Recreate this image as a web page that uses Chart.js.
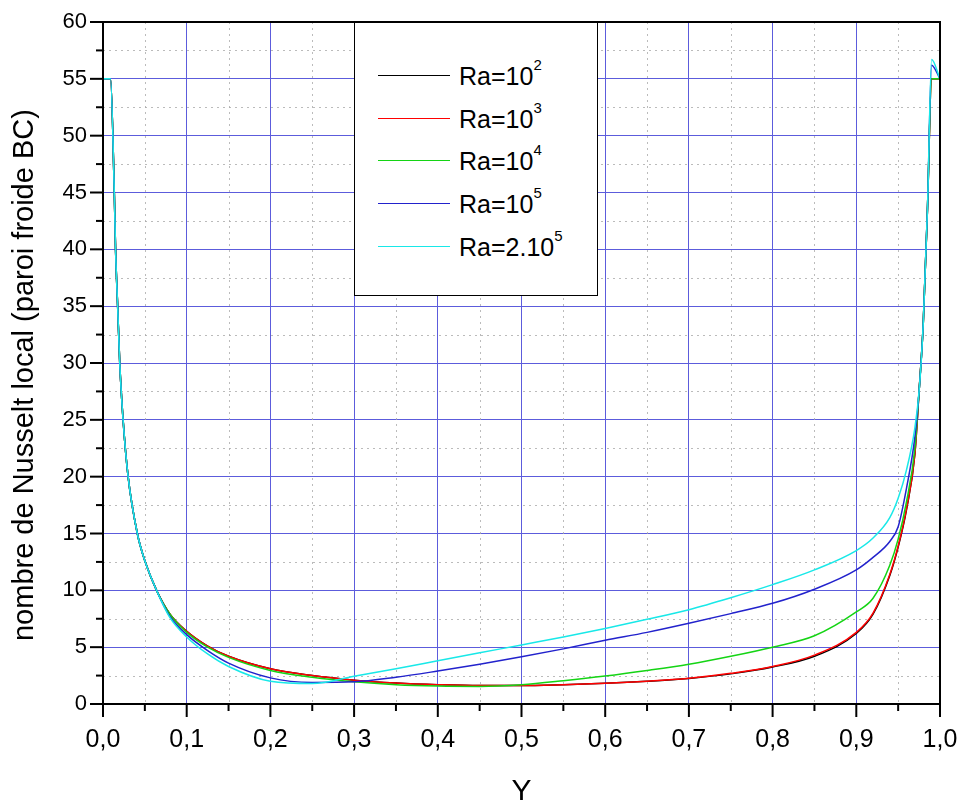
<!DOCTYPE html>
<html>
<head>
<meta charset="utf-8">
<script src="https://cdn.jsdelivr.net/npm/chart.js@4.4.1/dist/chart.umd.min.js"></script>
<style>
  html, body { margin: 0; padding: 0; background: #fff; }
  #wrap { position: relative; width: 962px; height: 807px; }
  #legend {
    position: absolute; left: 354px; top: 22px; width: 242px; height: 272px;
    border: 1.5px solid #000; background: #fff;
    font-family: "Liberation Sans", Arial, sans-serif; font-size: 25px; color: #000;
  }
  .row { position: absolute; left: 0; height: 30px; }
  .row i { position: absolute; left: 23px; top: 14px; width: 72px; height: 0; border-top: 1.5px solid; }
  .row span { position: absolute; left: 104px; top: 0; white-space: nowrap; line-height: 30px; }
  .row sup { font-size: 15px; position: relative; top: -4px; vertical-align: top; line-height: 15px; }
</style>
</head>
<body>
<div id="wrap">
  <canvas id="nu-chart"></canvas>
  <div id="legend"></div>
</div>
<script>
// Y position along the cold wall BC
const yPos = [0, 0.009, 0.0135, 0.015, 0.0175, 0.02, 0.024, 0.03, 0.041, 0.05, 0.064, 0.08,
              0.1, 0.125, 0.15, 0.2, 0.25, 0.3, 0.35, 0.4, 0.45, 0.5, 0.55, 0.6, 0.65, 0.7,
              0.75, 0.8, 0.85, 0.9, 0.92, 0.94, 0.95, 0.96, 0.97, 0.975, 0.98, 0.985, 0.99, 1.0];

// local Nusselt number, one list per Rayleigh number
const nuRa1e2 = [55, 55, 45, 40, 35, 30, 25, 20, 15, 12.6, 10, 7.9,
                 6.4, 5.1, 4.2, 3.1, 2.5, 2.1, 1.85, 1.7, 1.62, 1.62, 1.7, 1.82, 2.0, 2.25,
                 2.65, 3.25, 4.2, 6.2, 7.9, 11.3, 13.8, 17.1, 22, 27.5, 33.5, 43.5, 55, 55];
const nuRa1e3 = [55, 55, 45, 40, 35, 30, 25, 20, 15, 12.6, 10, 7.9,
                 6.4, 5.1, 4.2, 3.1, 2.5, 2.1, 1.85, 1.7, 1.62, 1.62, 1.7, 1.82, 2.0, 2.26,
                 2.7, 3.3, 4.3, 6.3, 8.0, 11.4, 13.9, 17.2, 22, 27.5, 33.5, 43.5, 55, 55];
const nuRa1e4 = [55, 55, 45, 40, 35, 30, 25, 20, 15, 12.6, 10, 7.9,
                 6.3, 5.0, 4.1, 2.95, 2.35, 1.95, 1.7, 1.58, 1.55, 1.7, 2.05, 2.46, 2.95, 3.5,
                 4.2, 5.0, 6.0, 8.1, 9.3, 12.2, 14.5, 17.8, 22.5, 27.5, 33.5, 43.5, 55, 55];
const nuRa1e5 = [55, 55, 45, 40, 35, 30, 25, 20, 15, 12.6, 10, 7.7,
                 6.1, 4.7, 3.6, 2.3, 1.9, 1.95, 2.35, 2.9, 3.5, 4.15, 4.85, 5.6, 6.3, 7.1,
                 7.95, 8.86, 10.1, 11.8, 12.9, 14.3, 15.6, 19.0, 23.5, 27.5, 33.5, 43.5, 56.2, 55];
const nuRa2e5 = [55, 55, 45, 40, 35, 30, 25, 20, 15, 12.6, 10, 7.6,
                 5.9, 4.4, 3.3, 2.0, 1.8, 2.45, 3.1, 3.8, 4.5, 5.2, 5.9, 6.65, 7.45, 8.3,
                 9.35, 10.5, 11.8, 13.5, 14.6, 16.4, 18.1, 20.6, 24.3, 27.5, 33.5, 43.5, 56.7, 55];

const seriesLabels = ['Ra=10<sup>2</sup>', 'Ra=10<sup>3</sup>', 'Ra=10<sup>4</sup>', 'Ra=10<sup>5</sup>', 'Ra=2.10<sup>5</sup>'];
const seriesData = [nuRa1e2, nuRa1e3, nuRa1e4, nuRa1e5, nuRa2e5];
const seriesColors = ['#000000', '#ff0000', '#14d414', '#2222cc', '#18e8e8'];

const FONT = '"Liberation Sans", Arial, sans-serif';
const GRID_BLUE = '#5c5cdc';

const isMajor = (v, step) => Math.abs(v / step - Math.round(v / step)) < 1e-6;

// minor dotted grid, outward ticks and black frame
const framePlugin = {
    id: 'frame',
    beforeDatasetsDraw(chart) {
        const {ctx, chartArea: a, scales: {x, y}} = chart;
        ctx.save();
        ctx.strokeStyle = 'rgba(170,170,170,0.8)';
        ctx.lineWidth = 1;
        ctx.setLineDash([2, 4]);
        for (let v = 0.05; v < 1; v += 0.1) {
            const px = Math.round(x.getPixelForValue(v)) + 0.5;
            ctx.beginPath(); ctx.moveTo(px, a.top); ctx.lineTo(px, a.bottom); ctx.stroke();
        }
        for (let v = 2.5; v < 60; v += 5) {
            const py = Math.round(y.getPixelForValue(v)) + 0.5;
            ctx.beginPath(); ctx.moveTo(a.left, py); ctx.lineTo(a.right, py); ctx.stroke();
        }
        ctx.restore();
    },
    afterDatasetsDraw(chart) {
        const {ctx, chartArea: a, scales: {x, y}} = chart;
        ctx.save();
        ctx.strokeStyle = '#000';
        ctx.lineWidth = 2;
        ctx.strokeRect(a.left, a.top, a.right - a.left, a.bottom - a.top);
        for (let i = 0; i <= 20; i++) {
            const px = x.getPixelForValue(i * 0.05);
            const len = i % 2 === 0 ? 13 : 7;
            ctx.beginPath(); ctx.moveTo(px, a.bottom); ctx.lineTo(px, a.bottom + len); ctx.stroke();
        }
        for (let i = 0; i <= 24; i++) {
            const py = y.getPixelForValue(i * 2.5);
            const len = i % 2 === 0 ? 13 : 7;
            ctx.beginPath(); ctx.moveTo(a.left, py); ctx.lineTo(a.left - len, py); ctx.stroke();
        }
        ctx.restore();
    }
};

document.addEventListener('DOMContentLoaded', () => {
    const legend = document.getElementById('legend');
    seriesLabels.forEach((lbl, i) => {
        const row = document.createElement('div');
        row.className = 'row';
        row.style.top = (38 + i * 42.7) + 'px';
        row.innerHTML = '<i style="border-color:' + seriesColors[i] + '"></i><span>' + lbl + '</span>';
        legend.appendChild(row);
    });

    const dataSets = seriesData.map((vals, i) => ({
        label: seriesLabels[i].replace(/<\/?sup>/g, ''),
        data: vals.map((v, k) => ({x: yPos[k], y: v})),
        borderColor: seriesColors[i],
        backgroundColor: seriesColors[i],
        borderWidth: 1.5,
        pointRadius: 0,
        cubicInterpolationMode: 'monotone',
        order: [4, 3, 2, 1, 0][i]
    }));

    new Chart(document.getElementById('nu-chart'), {
        type: 'line',
        data: { datasets: dataSets },
        options: {
            responsive: true,
            maintainAspectRatio: false,
            animation: false,
            layout: { padding: { top: 22, right: 22, left: 0, bottom: 0 } },
            plugins: { legend: { display: false }, tooltip: { enabled: false } },
            scales: {
                x: {
                    type: 'linear', min: 0, max: 1,
                    afterFit: (s) => { s.height = 103; s.paddingLeft = 0; s.paddingRight = 0; },
                    border: { display: false },
                    grid: { color: GRID_BLUE, lineWidth: 1, drawTicks: false },
                    ticks: {
                        stepSize: 0.1, autoSkip: false, padding: 21, color: '#000',
                        font: { family: FONT, size: 25 },
                        callback: (v) => isMajor(v, 0.1) ? v.toFixed(1).replace('.', ',') : ''
                    },
                    title: {
                        display: true, text: 'Y', color: '#000',
                        font: { family: FONT, size: 30, lineHeight: 1 },
                        padding: { top: 0, bottom: 0 }
                    }
                },
                y: {
                    min: 0, max: 60,
                    afterFit: (s) => { s.width = 103; s.paddingTop = 0; s.paddingBottom = 0; },
                    border: { display: false },
                    grid: { color: GRID_BLUE, lineWidth: 1, drawTicks: false },
                    ticks: {
                        stepSize: 5, padding: 16, color: '#000',
                        font: { family: FONT, size: 22 }
                    },
                    title: {
                        display: true, text: 'nombre de Nusselt local (paroi froide BC)\u00a0\u00a0\u00a0', color: '#000',
                        font: { family: FONT, size: 29, lineHeight: 1.2 },
                        padding: { top: 8, bottom: 0 }
                    }
                }
            }
        },
        plugins: [framePlugin]
    });
});
</script>
</body>
</html>
